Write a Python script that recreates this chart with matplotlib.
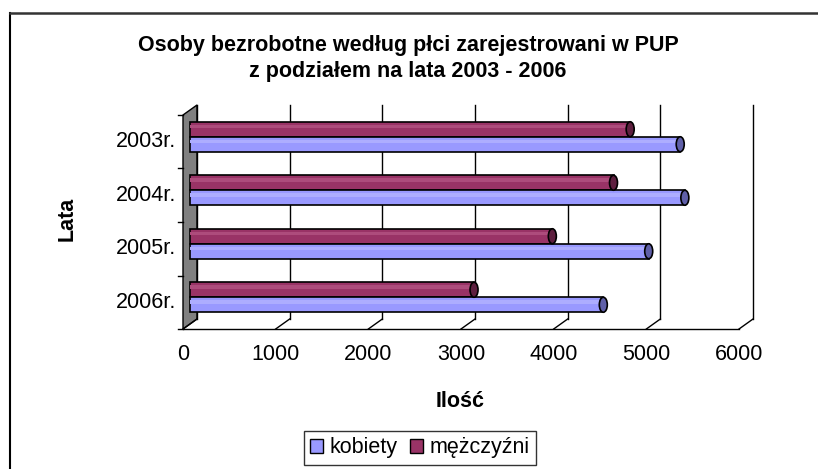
import matplotlib.pyplot as plt
from matplotlib.patches import Polygon, Ellipse, Patch

plt.rcParams['font.family'] = ['Liberation Sans', 'DejaVu Sans']

# data
years = ['2003r.', '2004r.', '2005r.', '2006r.']
kobiety = [5290, 5340, 4950, 4460]
mezczyzni = [4750, 4570, 3910, 3065]
xticks = [0, 1000, 2000, 3000, 4000, 5000, 6000]

blue, blue_hi, blue_end = '#9999FF', '#ADADFF', '#5F5FA8'
maroon, maroon_hi, maroon_end = '#993366', '#AD4C7C', '#5E1F3F'
fs = 15.5

W, H = 818, 469
fig = plt.figure(figsize=(W / 100, H / 100), dpi=100)

# pixel geometry of the fake 3d plot
px_per_unit = 0.09267   # x pixels per value unit
px_per_cat = 53.5
x0, y0 = 183, 329
L, R, T, B = 150, 780, 95, 340
ax = fig.add_axes([L / W, 1 - B / H, (R - L) / W, (B - T) / H])
ax.set_xlim((L - x0) / px_per_unit, (R - x0) / px_per_unit)
ax.set_ylim((y0 - B) / px_per_cat, (y0 - T) / px_per_cat)
ax.axis('off')

DX = 14 / px_per_unit   # depth offset
DY = 10 / px_per_cat
n = len(years)
top = n

# back wall gridlines + floor
for v in xticks:
    ax.plot([v + DX, v + DX], [DY, top + DY], color='black', lw=1)
    ax.plot([v, v + DX], [0, DY], color='black', lw=1)
ax.plot([0, xticks[-1]], [0, 0], color='black', lw=1)

# side wall
ax.add_patch(Polygon([(0, 0), (DX, DY), (DX, top + DY), (0, top)],
                     closed=True, facecolor='#808080', edgecolor='black', lw=1))
for i in range(n + 1):
    ax.plot([-5 / px_per_unit, 0], [i, i], color='black', lw=1)

# cylinders
h = 15 / px_per_cat
cap_w = 8 / px_per_unit
for i, yr in enumerate(years):
    yc = n - 1 - i + 0.5 + DY / 2
    for val, yb, c, chi, cend in [(mezczyzni[i], yc + h / 2, maroon, maroon_hi, maroon_end),
                                  (kobiety[i], yc - h / 2, blue, blue_hi, blue_end)]:
        ax.barh(yb, val, left=DX / 2, height=h, color=c, edgecolor='black', lw=1.2, zorder=3)
        ax.barh(yb + h * 0.18, val, left=DX / 2, height=h * 0.22, color=chi, lw=0, zorder=3)
        ax.add_patch(Ellipse((val + DX / 2, yb), cap_w, h, facecolor=cend,
                             edgecolor='black', lw=1.2, zorder=4))
    ax.text(-7 / px_per_unit, n - 1 - i + 0.5, yr, ha='right', va='center', fontsize=fs)

for v in xticks:
    ax.text(v, -26 / px_per_cat, str(v), ha='center', va='center', fontsize=fs)

# texts
fig.text(408 / W, 1 - 45 / H, 'Osoby bezrobotne według płci zarejestrowani w PUP',
         ha='center', va='center', fontsize=fs, fontweight='bold')
fig.text(408 / W, 1 - 72 / H, 'z podziałem na lata 2003 - 2006',
         ha='center', va='center', fontsize=fs, fontweight='bold')
fig.text(67 / W, 1 - 219 / H, 'Lata', rotation=90, ha='center', va='center', fontsize=fs, fontweight='bold')
fig.text(460 / W, 1 - 401 / H, 'Ilość', ha='center', va='center', fontsize=fs, fontweight='bold')

handles = [Patch(facecolor=blue, edgecolor='black', label='kobiety'),
           Patch(facecolor=maroon, edgecolor='black', label='mężczyźni')]
leg = fig.legend(handles=handles, loc='upper center', bbox_to_anchor=(420 / W, 1 - 431 / H),
                 ncol=2, fontsize=fs, frameon=True, fancybox=False, handlelength=0.6,
                 handleheight=0.6, handletextpad=0.3, columnspacing=0.6, borderpad=0.3,
                 borderaxespad=0)
leg.get_frame().set_edgecolor('black')
leg.get_frame().set_linewidth(1)

# chart border (cut at right and bottom)
fig.add_artist(plt.Line2D([10 / W, 10 / W], [0, 1 - 13 / H], color='black', lw=1.5))
fig.add_artist(plt.Line2D([10 / W, 1], [1 - 13 / H, 1 - 13 / H], color='#333333', lw=1.8))

fig.savefig('out.png', dpi=100)
